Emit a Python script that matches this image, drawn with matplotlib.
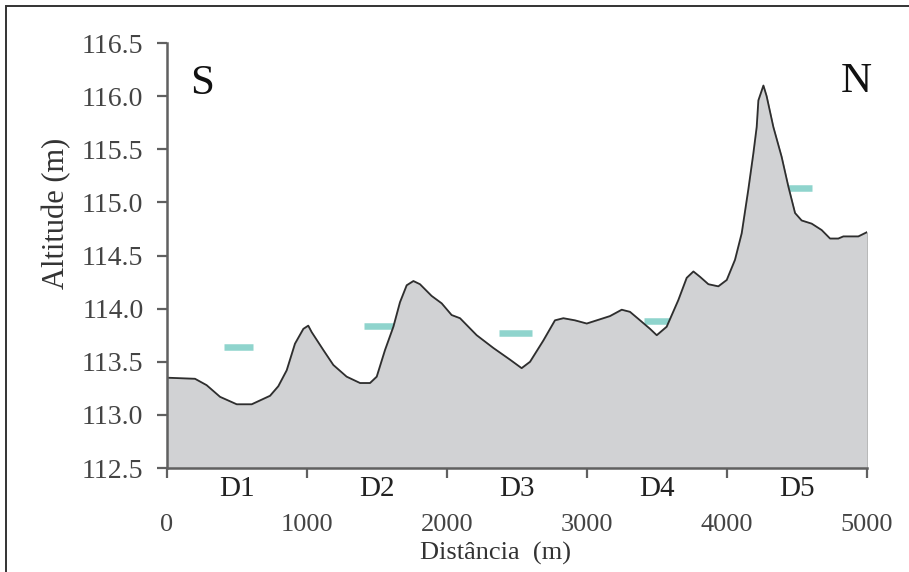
import matplotlib
matplotlib.use('Agg')
import matplotlib.pyplot as plt
from matplotlib.patches import Rectangle

plt.rcParams['font.family'] = ['Liberation Serif', 'DejaVu Serif']

# altitude profile
dist = [0, 200, 283, 379, 498, 605, 736, 795, 855, 914, 974, 1009, 1033,
        1117, 1188, 1283, 1379, 1450, 1498, 1557, 1617, 1664, 1712, 1760,
        1807, 1890, 1962, 2033, 2093, 2212, 2331, 2450, 2533, 2593, 2688,
        2771, 2831, 2914, 2998, 3093, 3164, 3248, 3307, 3379, 3450, 3498,
        3569, 3652, 3712, 3760, 3807, 3867, 3938, 3998, 4057, 4105, 4152,
        4188, 4212, 4224, 4260, 4283, 4331, 4390, 4438, 4486, 4533, 4605,
        4676, 4736, 4795, 4831, 4938, 5000]
alt = [113.35, 113.34, 113.28, 113.17, 113.10, 113.10, 113.18, 113.27,
       113.42, 113.67, 113.81, 113.84, 113.78, 113.61, 113.47, 113.36,
       113.30, 113.30, 113.36, 113.61, 113.83, 114.06, 114.22, 114.26,
       114.23, 114.12, 114.05, 113.94, 113.91, 113.75, 113.63, 113.52,
       113.44, 113.50, 113.70, 113.89, 113.91, 113.89, 113.86, 113.90,
       113.93, 113.99, 113.97, 113.89, 113.81, 113.75, 113.83, 114.08,
       114.29, 114.35, 114.30, 114.23, 114.21, 114.27, 114.46, 114.71,
       115.12, 115.46, 115.71, 115.96, 116.10, 116.00, 115.71, 115.43,
       115.15, 114.90, 114.83, 114.80, 114.74, 114.66, 114.66, 114.68,
       114.68, 114.72]

# section markers
sections = ['D1', 'D2', 'D3', 'D4', 'D5']
sec_mid = [500, 1500, 2500, 3500, 4500]
sec_start = [410, 1410, 2370, 3410, 4390]
sec_end = [615, 1640, 2610, 3640, 4610]
sec_level = [113.64, 113.84, 113.77, 113.88, 115.14]

fig = plt.figure(figsize=(9.09, 5.72), dpi=100)
ax = fig.add_axes([0.1837, 0.1818, 0.7701, 0.743])

for x0, x1, lv in zip(sec_start, sec_end, sec_level):
    ax.plot([x0, x1], [lv, lv], color='#8fd4cd', lw=4.7,
            solid_capstyle='butt', zorder=1)

ax.fill_between(dist, alt, 112.5, facecolor='#d1d2d4',
                edgecolor='#b0b0b0', lw=0.6, zorder=2)
ax.plot(dist, alt, color='#2e2e2e', lw=1.3, solid_joinstyle='round',
        zorder=3)

ax.set_xlim(0, 5000)
ax.set_ylim(112.5, 116.5)
ax.set_xticks([0, 1000, 2000, 3000, 4000, 5000])
ax.set_xticks(sec_mid, minor=True)
ax.set_xticklabels(sections, minor=True)
ax.set_yticks([112.5, 113.0, 113.5, 114.0, 114.5, 115.0, 115.5, 116.0, 116.5])
ax.set_yticklabels(['%.1f' % v for v in ax.get_yticks()])

for s in ['top', 'right']:
    ax.spines[s].set_visible(False)
for s in ['left', 'bottom']:
    ax.spines[s].set_color('#606060')
    ax.spines[s].set_linewidth(1.8)
    ax.spines[s].set_zorder(4)

ax.tick_params(axis='y', which='major', direction='out', length=7,
               width=1.6, color='#606060', labelsize=20,
               labelcolor='#444444', pad=10)
ax.tick_params(axis='x', which='major', direction='out', length=7,
               width=1.6, color='#606060', labelsize=19,
               labelcolor='#444444', pad=26)
ax.tick_params(axis='x', which='minor', length=0, labelsize=21,
               labelcolor='#222222', pad=6)

ax.set_xlabel('Distância  (m)', fontsize=19, color='#333333')
ax.xaxis.set_label_coords(0.47, -0.173)
ax.set_ylabel('Altitude (m)', fontsize=22, color='#333333')
ax.yaxis.set_label_coords(-0.137, 0.6)

ax.text(0.05, 0.905, 'S', transform=ax.transAxes, fontsize=31,
        ha='center', va='center', color='#111111')
ax.text(0.985, 0.91, 'N', transform=ax.transAxes, fontsize=31,
        ha='center', va='center', color='#111111')

# outer frame (left and top visible)
fig.patches.append(Rectangle((5.5 / 909, -0.05), 1.2, 1.05 - 5.5 / 572,
                             transform=fig.transFigure, fill=False,
                             edgecolor='#333333', lw=1.4))

fig.savefig('out.png', dpi=100)
